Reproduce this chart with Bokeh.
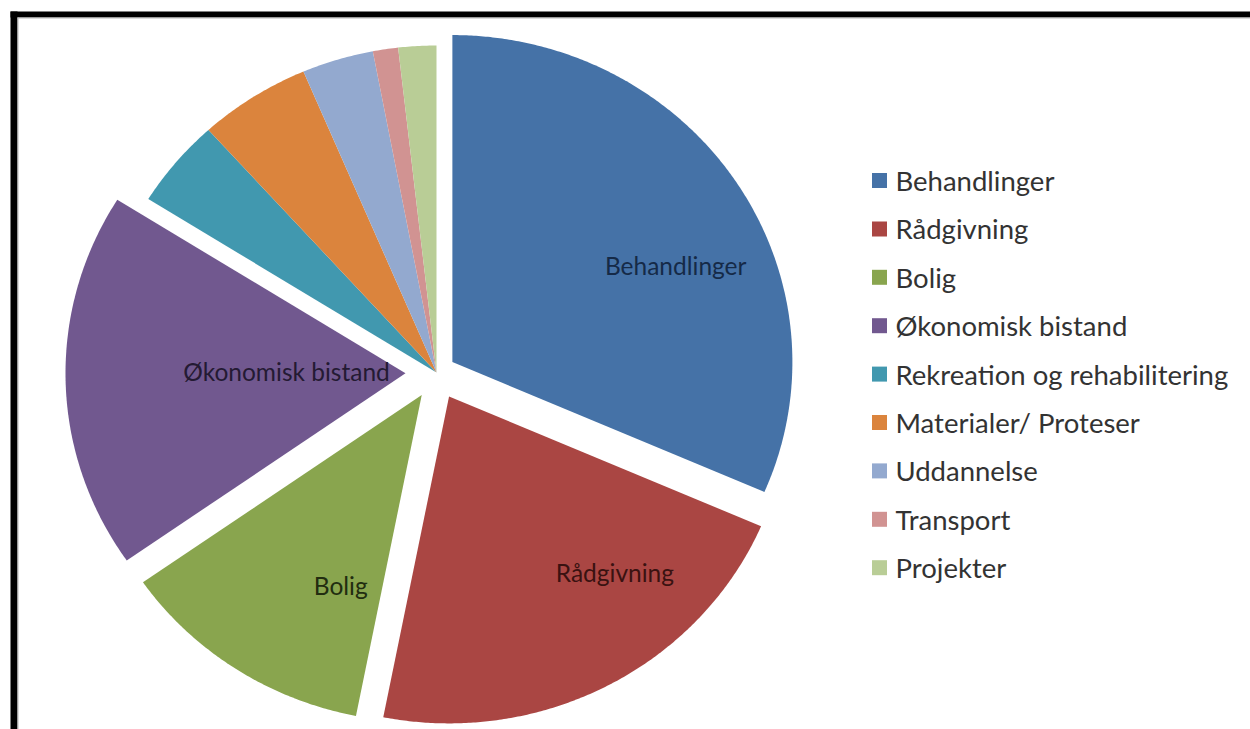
import math
from bokeh.plotting import figure
from bokeh.models import Range1d
from bokeh.core.properties import value
from bokeh.embed import file_html
from bokeh.resources import INLINE

# ---- data ----
categories = ["Behandlinger", "Rådgivning", "Bolig", "Økonomisk bistand",
              "Rekreation og rehabilitering", "Materialer/ Proteser",
              "Uddannelse", "Transport", "Projekter"]
shares = [31.5, 21.6, 12.2, 18.6, 4.4, 5.3, 3.4, 1.2, 1.8]
colors = ["#4572A7", "#AA4643", "#89A54E", "#71588F", "#4198AF",
          "#DB843D", "#93A9CF", "#D19392", "#B9CD96"]
label_colors = ["#152a47", "#3a1211", "#222d10", "#241a33"]

# ---- layout (pixels in figure space) ----
W, H = 1250, 729
cx, cy = 436, 372
rx, ry = 340, 327
explode = [19, 27, 27, 31, 0, 0, 0, 0, 0]
label_geo = [(65.8, 0.72), (137.8, 0.726), (202.3, 0.628), (271.0, 0.35)]
label_size = "24.5px"
legend_size = "27.5px"

p = figure(width=W, height=H, output_backend="svg", toolbar_location=None,
           x_range=Range1d(0, W), y_range=Range1d(H, 0),
           x_axis_type=None, y_axis_type=None, min_border=0,
           outline_line_color=None, background_fill_color="white",
           border_fill_color="white")
p.grid.visible = False

total = sum(shares)
xs, ys, centers = [], [], []
start = 0.0
for i, s in enumerate(shares):
    span = 360.0 * s / total
    end = start + span
    mid = math.radians(start + span / 2)
    ox = explode[i] * math.sin(mid)
    oy = -explode[i] * math.cos(mid)
    ccx, ccy = cx + ox, cy + oy
    n = max(4, int(span / 0.4))
    px = [ccx]
    py = [ccy]
    for k in range(n + 1):
        t = math.radians(start + span * k / n)
        px.append(ccx + rx * math.sin(t))
        py.append(ccy - ry * math.cos(t))
    xs.append(px)
    ys.append(py)
    centers.append((ccx, ccy))
    start = end

p.patches(xs, ys, fill_color=colors, line_color=None)

# slice labels
for i, (ang, f) in enumerate(label_geo):
    t = math.radians(ang)
    lx = centers[i][0] + f * rx * math.sin(t)
    ly = centers[i][1] - f * ry * math.cos(t)
    p.text(x=[lx], y=[ly], text=[categories[i]], text_align="center",
           text_baseline="middle", text_font=value("Lato"),
           text_font_size=label_size, text_color=label_colors[i])

# legend
leg_y0, leg_dy = 180, 48.4
leg_ys = [leg_y0 + i * leg_dy for i in range(len(categories))]
p.rect(x=[879] * len(categories), y=leg_ys, width=15, height=15,
       fill_color=colors, line_color=None)
p.text(x=[895] * len(categories), y=leg_ys, text=categories,
       text_align="left", text_baseline="middle", text_font=value("Lato"),
       text_font_size=legend_size, text_color="#333333")

# frame: black bars on the left and top, thin grey inner line
p.quad(left=[10, 10], right=[17, W], top=[11, 11], bottom=[H, 17],
       fill_color="black", line_color=None)
p.quad(left=[17, 17], right=[18, W], top=[17, 17], bottom=[H, 18],
       fill_color="#b8b8b8", line_color=None)

open("out.html", "w").write(file_html(p, INLINE))
